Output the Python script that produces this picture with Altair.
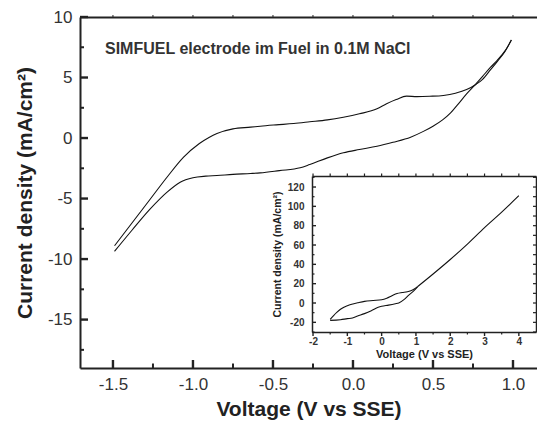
import altair as alt
import pandas as pd

# ---------------- data ----------------
# Main cyclic voltammogram: current density (mA/cm2) vs voltage (V vs SSE)
main_upper_v = [-1.49, -1.38, -1.27, -1.16, -1.06, -0.96, -0.90, -0.85, -0.75, -0.64,
                -0.58, -0.48, -0.37, -0.27, -0.16, -0.06, 0.04, 0.15, 0.21, 0.27,
                0.335, 0.40, 0.48, 0.565, 0.64, 0.71, 0.77, 0.81, 0.86, 0.90, 0.95, 0.99]
main_upper_i = [-8.9, -7.0, -5.1, -3.2, -1.6, -0.45, 0.05, 0.38, 0.76, 0.9,
                0.98, 1.09, 1.2, 1.34, 1.5, 1.72, 2.0, 2.41, 2.83, 3.18,
                3.46, 3.42, 3.45, 3.52, 3.7, 4.0, 4.45, 4.85, 5.65, 6.3, 7.15, 8.1]
main_lower_v = [-1.49, -1.38, -1.27, -1.16, -1.08, -1.0, -0.92, -0.85, -0.75, -0.64,
                -0.58, -0.46, -0.33, -0.27, -0.16, -0.06, 0.04, 0.15, 0.25, 0.36,
                0.44, 0.50, 0.56, 0.61, 0.66, 0.71, 0.76, 0.81, 0.86, 0.90, 0.95, 0.99]
main_lower_i = [-9.36, -7.6, -5.9, -4.45, -3.65, -3.28, -3.15, -3.1, -3.0, -2.93,
                -2.88, -2.69, -2.46, -2.19, -1.64, -1.22, -0.95, -0.68, -0.35, 0.07,
                0.55, 0.98, 1.5, 2.08, 2.85, 3.65, 4.35, 5.1, 5.85, 6.4, 7.2, 8.1]

# Inset: wider potential window
inset_upper_v = [-1.5, -1.4, -1.3, -1.2, -1.1, -1.0, -0.9, -0.7, -0.5, -0.25, 0.0,
                 0.15, 0.3, 0.45, 0.6, 0.75, 0.9, 1.05]
inset_upper_i = [-17, -13, -9.5, -6.5, -4.3, -2.8, -1.5, 0.2, 1.7, 2.6, 3.4,
                 5.0, 7.5, 9.8, 10.8, 11.6, 13.5, 17]
inset_lower_v = [-1.5, -1.2, -1.0, -0.85, -0.7, -0.5, -0.3, -0.1, 0.0, 0.2, 0.4,
                 0.5, 0.65, 0.8, 0.95, 1.05]
inset_lower_i = [-18, -17.3, -16.2, -15.5, -13.5, -11, -8, -4.5, -3.4, -2.2, -0.8,
                 0.0, 3.5, 8.5, 13, 17]
inset_tail_v = [1.05, 1.5, 2.0, 2.5, 3.0, 3.5, 4.0]
inset_tail_i = [17, 30, 45, 61, 78, 94, 111]

# tick values
main_x_major = [-1.5, -1.0, -0.5, 0.0, 0.5, 1.0]
main_x_minor = [-1.25, -0.75, -0.25, 0.25, 0.75]
main_x_top = [-1.5, -1.25, -1.0, -0.75, -0.5, -0.25, 0.0, 0.25, 0.5, 0.75, 1.0]
main_y_major = [-15, -10, -5, 0, 5, 10]
main_y_minor = [-17.5, -12.5, -7.5, -2.5, 2.5, 7.5]
inset_x_major = [-2, -1, 0, 1, 2, 3, 4]
inset_x_minor = [-1.5, -0.5, 0.5, 1.5, 2.5, 3.5]
inset_x_top = [-2, -1.5, -1, -0.5, 0, 0.5, 1, 1.5, 2, 2.5, 3, 3.5, 4]
inset_y_major = [-20, 0, 20, 40, 60, 80, 100, 120]
inset_y_minor = [-30, -10, 10, 30, 50, 70, 90, 110, 130]
inset_y_all = [-30, -20, -10, 0, 10, 20, 30, 40, 50, 60, 70, 80, 90, 100, 110, 120, 130]

annotation = "SIMFUEL electrode im Fuel in 0.1M NaCl"

main_df = pd.DataFrame({
    "V": main_upper_v + main_lower_v,
    "I": main_upper_i + main_lower_i,
    "branch": ["upper"] * len(main_upper_v) + ["lower"] * len(main_lower_v),
})
inset_df = pd.DataFrame({
    "V": inset_upper_v + inset_lower_v + inset_tail_v,
    "I": inset_upper_i + inset_lower_i + inset_tail_i,
    "branch": ["upper"] * len(inset_upper_v) + ["lower"] * len(inset_lower_v)
              + ["tail"] * len(inset_tail_v),
})

# ---------------- layout ----------------
W, H = 457, 351
FONT = "Liberation Sans"
INK = "#222"
MAIN_X = [-1.706, 1.15]
MAIN_Y = [-19, 10]
INS_X = [-2.03, 4.5]
INS_Y = [-30, 131.4]
INS_XR = [232, 456]
INS_YR = [315, 159]

neg1 = "(datum.value < 0 ? '-' : '') + format(abs(datum.value), '.1f')"
negd = "(datum.value < 0 ? '-' : '') + format(abs(datum.value), 'd')"


def msx():
    return alt.Scale(domain=MAIN_X, nice=False, zero=False)


def msy():
    return alt.Scale(domain=MAIN_Y, nice=False, zero=False)


def isx():
    return alt.Scale(domain=INS_X, range=INS_XR, nice=False, zero=False)


def isy():
    return alt.Scale(domain=INS_Y, range=INS_YR, nice=False, zero=False)


def frame_axis(orient, offset, width):
    return alt.Axis(orient=orient, offset=offset, ticks=False, labels=False,
                    title=None, domain=True, domainWidth=width,
                    domainColor=INK, grid=False)


def ghost(df, xs, ys, xaxis, yaxis):
    return alt.Chart(df).mark_point(opacity=0).encode(
        x=alt.X("V:Q", scale=xs, axis=xaxis),
        y=alt.Y("I:Q", scale=ys, axis=yaxis),
    )


def xticks(values, scale, y0, y1, width):
    return alt.Chart(pd.DataFrame({"v": values})).mark_rule(
        color=INK, strokeWidth=width
    ).encode(x=alt.X("v:Q", scale=scale, axis=None),
             y=alt.value(y0), y2=alt.value(y1))


def yticks(values, scale, x0, x1, width):
    return alt.Chart(pd.DataFrame({"v": values})).mark_rule(
        color=INK, strokeWidth=width
    ).encode(y=alt.Y("v:Q", scale=scale, axis=None),
             x=alt.value(x0), x2=alt.value(x1))


# main curve with labelled axes
main_line = alt.Chart(main_df).mark_line(
    color="#111", strokeWidth=1.1, interpolate="monotone"
).encode(
    x=alt.X("V:Q", scale=msx(), axis=alt.Axis(
        orient="bottom", values=main_x_major, labelExpr=neg1, ticks=False,
        labelPadding=8, labelFontSize=17, labelFont=FONT, labelColor="#333",
        labelFlush=False, labelOverlap=False, domainWidth=2, domainColor=INK,
        title="Voltage (V vs SSE)", titleFont=FONT, titleFontSize=21,
        titleFontWeight="bold", titleColor=INK, titlePadding=6, grid=False)),
    y=alt.Y("I:Q", scale=msy(), axis=alt.Axis(
        orient="left", values=main_y_major, labelExpr=negd, ticks=False,
        labelPadding=8, labelFontSize=17, labelFont=FONT, labelColor="#333",
        labelFlush=False, labelOverlap=False, domainWidth=2, domainColor=INK,
        title="Current density (mA/cm²)", titleFont=FONT, titleFontSize=21,
        titleFontWeight="bold", titleColor=INK, titlePadding=12, grid=False)),
    detail="branch:N",
)

main_top = ghost(main_df, msx(), msy(), frame_axis("top", 0, 2), None)

# inward ticks of the main frame
main_ticks = [
    xticks(main_x_major, msx(), H - 8, H, 2.4),
    xticks(main_x_minor, msx(), H - 4.5, H, 2),
    xticks(main_x_top, msx(), -2, 0, 1),
    yticks(main_y_major, msy(), 0, 8, 2.4),
    yticks(main_y_minor, msy(), 0, 4, 2),
]

# inset curve with labelled axes
inset_line = alt.Chart(inset_df).mark_line(
    color="#111", strokeWidth=1.1, interpolate="monotone"
).encode(
    x=alt.X("V:Q", scale=isx(), axis=alt.Axis(
        orient="bottom", offset=-36, values=inset_x_major, labelExpr=negd,
        ticks=False, labelPadding=4, labelFontSize=10, labelFont=FONT,
        labelFontWeight="bold", labelColor="#333", labelFlush=False,
        labelOverlap=False, domainWidth=1.5, domainColor=INK,
        title="Voltage (V vs SSE)", titleFont=FONT, titleFontSize=11,
        titleFontWeight="bold", titleColor=INK, titlePadding=2, grid=False)),
    y=alt.Y("I:Q", scale=isy(), axis=alt.Axis(
        orient="left", offset=-232, values=inset_y_major, labelExpr=negd,
        ticks=False, labelPadding=8, labelFontSize=10, labelFont=FONT,
        labelFontWeight="bold", labelColor="#333", labelFlush=False,
        labelOverlap=False, domainWidth=1.5, domainColor=INK,
        title="Current density (mA/cm²)", titleFont=FONT, titleFontSize=10.5,
        titleFontWeight="bold", titleColor=INK, titlePadding=5, grid=False)),
    detail="branch:N",
)

inset_frame = ghost(inset_df, isx(), isy(),
                    frame_axis("top", -159, 1.5),
                    frame_axis("left", -456, 1.5))

inset_ticks = [
    xticks(inset_x_major, isx(), 315, 319, 1.4),
    xticks(inset_x_minor, isx(), 315, 317.5, 1.2),
    xticks(inset_x_top, isx(), 156.5, 159, 1.2),
    yticks(inset_y_major, isy(), 232, 236, 1.4),
    yticks(inset_y_minor, isy(), 232, 234.5, 1.2),
    yticks(inset_y_all, isy(), 453, 456, 1.2),
]

label = alt.Chart(pd.DataFrame({"t": [annotation]})).mark_text(
    align="left", baseline="middle", fontSize=16, fontWeight="bold",
    font=FONT, color="#333",
).encode(x=alt.value(25), y=alt.value(32), text="t:N")

chart = alt.layer(
    main_line, main_top, *main_ticks,
    inset_line, inset_frame, *inset_ticks, label,
).resolve_scale(
    x="independent", y="independent"
).resolve_axis(
    x="independent", y="independent"
).properties(
    width=W, height=H,
    autosize=alt.AutoSizeParams(type="none"),
    padding={"left": 80, "top": 17, "right": 0, "bottom": 64},
    background="white",
).configure_view(stroke=None)

chart.save("out.html", embed_options={"renderer": "svg", "actions": False})
